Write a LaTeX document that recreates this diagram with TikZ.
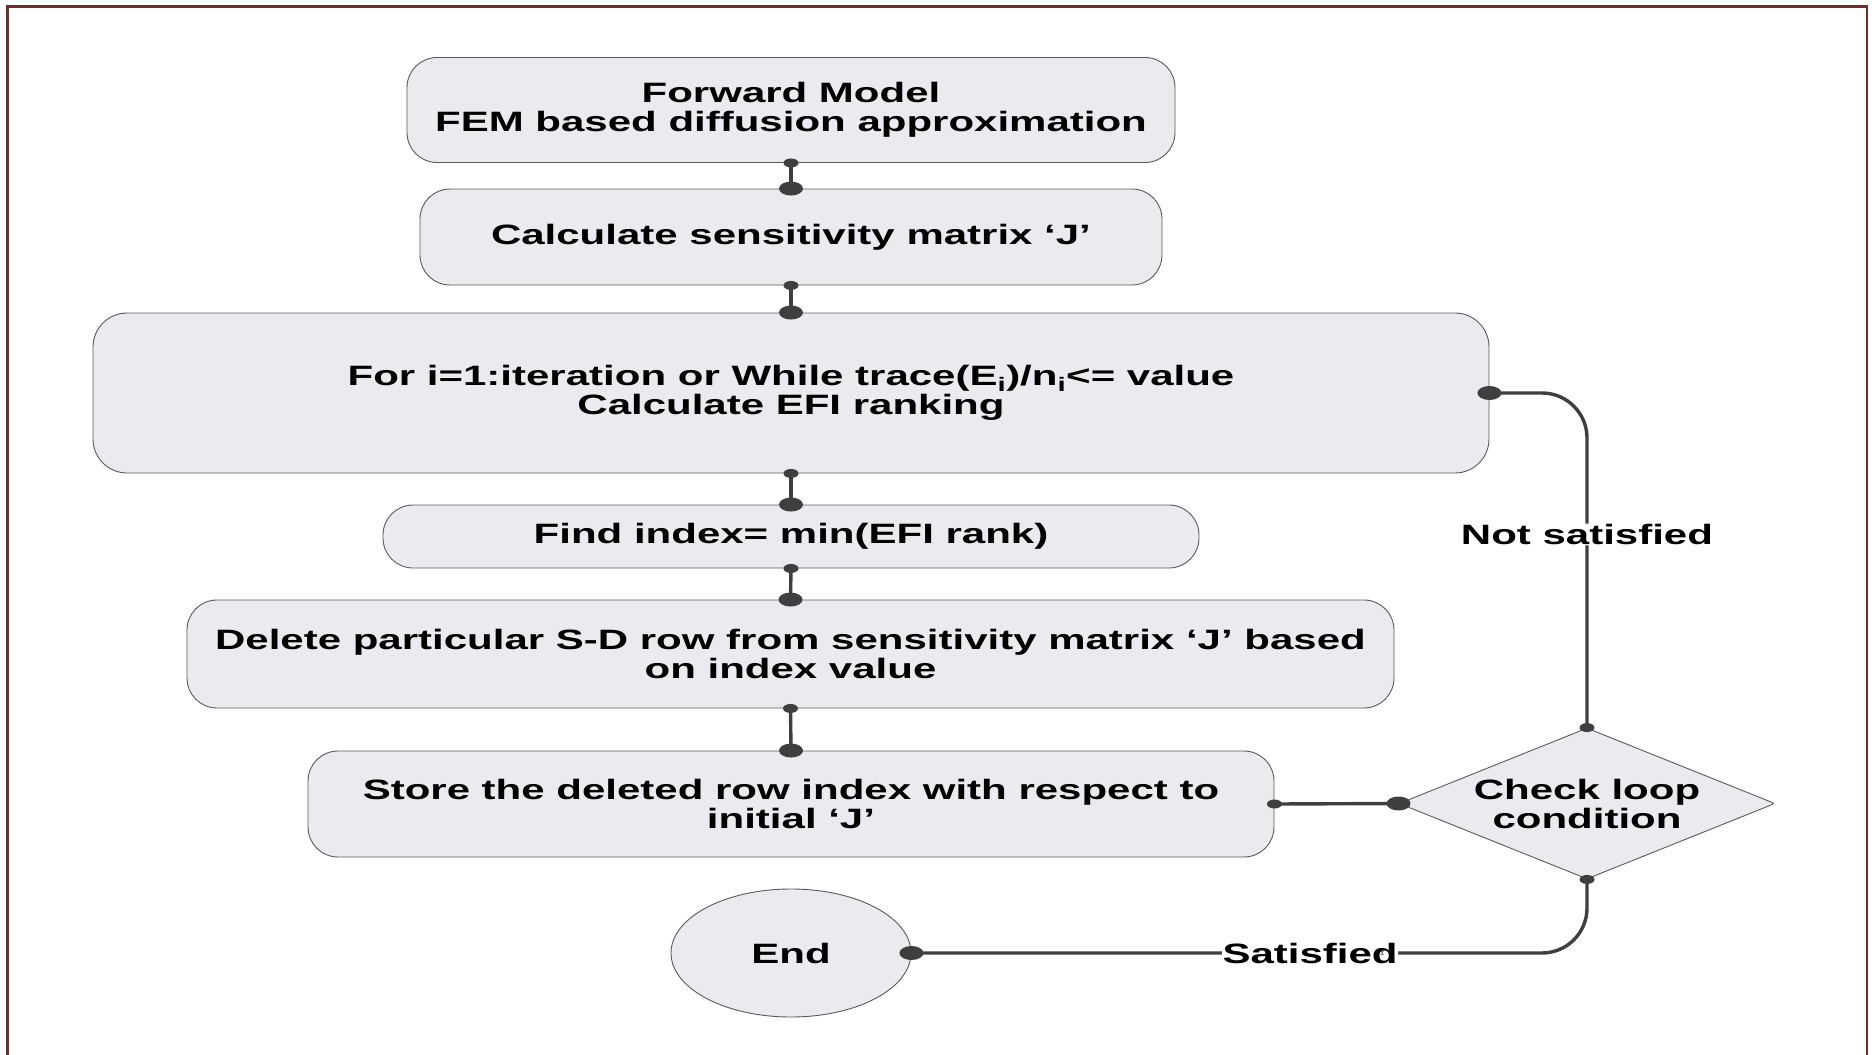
\documentclass[tikz,border=0pt]{standalone}
\usepackage{fontspec}
\newfontfamily\diafont{Liberation Sans}[FakeStretch=1.5]
\usetikzlibrary{shapes.geometric}
\definecolor{boxfill}{HTML}{EBEAEE}
\definecolor{boxdraw}{HTML}{5A5A5A}
\definecolor{linec}{HTML}{3F3F3F}
\definecolor{framec}{HTML}{6E2C2C}
\begin{document}
\begin{tikzpicture}[x=1pt,y=-1pt,
  every node/.style={font=\diafont\bfseries\fontsize{28}{29}\selectfont},
  box/.style={draw=boxdraw, fill=boxfill, rounded corners=30pt, line width=0.9pt, align=center, inner sep=4pt},
  conn/.style={draw=linec, line width=3.4pt},
  lbl/.style={fill=white, inner sep=0.5pt},
  sdot/.style={fill=linec},
]
\useasboundingbox (0,0) rectangle (1872,1055);
% frame
\draw[framec, line width=2.2pt] (7.5,1060) -- (7.5,6.5) -- (1867,6.5) -- (1867,1060);

% nodes
\node[box, minimum width=768pt, minimum height=105pt] (b1) at (791,110) {Forward Model\\FEM based diffusion approximation};
\node[box, minimum width=742pt, minimum height=96pt] (b2) at (791,237) {Calculate sensitivity matrix ‘J’};
\node[box, rounded corners=34pt, minimum width=1396pt, minimum height=160pt] (b3) at (791,393) {For i=1:iteration or While trace(E\textsubscript{i})/n\textsubscript{i}<= value\\Calculate EFI ranking};
\node[box, minimum width=816pt, minimum height=63pt] (b4) at (791,536.5) {Find index= min(EFI rank)};
\node[box, minimum width=1207pt, minimum height=108pt] (b5) at (790.5,654) {Delete particular S-D row from sensitivity matrix ‘J’ based\\on index value};
\node[box, minimum width=966pt, minimum height=106pt] (b6) at (791,804) {Store the deleted row index with respect to\\initial ‘J’};
\node[ellipse, draw=boxdraw, fill=boxfill, line width=0.9pt, minimum width=240pt, minimum height=128pt, inner sep=0pt] (end) at (791,953) {End};
\node[diamond, draw=boxdraw, fill=boxfill, line width=0.9pt, rounded corners=3pt, minimum width=376pt, minimum height=151pt, inner sep=0pt,
  label={[align=center]center:Check loop\\condition}] (dia) at (1587,803.5) {};

% connectors
\draw[conn] (b1.south) -- (b2.north);
\draw[conn] (b2.south) -- (b3.north);
\draw[conn] (b3.south) -- (b4.north);
\draw[conn] (b4.south) -- (b5.north);
\draw[conn] (b5.south) -- (b6.north);
\draw[conn] (b6.east) -- (dia.west);
\draw[conn, rounded corners=45pt] (dia.north) -- node[lbl, pos=0.577] {Not satisfied} (dia.north |- b3.east) -- (b3.east);
\draw[conn, rounded corners=45pt] (dia.south) -- (dia.south |- end.east) -- node[lbl, pos=0.41] {Satisfied} (end.east);

% dots (small = source, big = target)
\foreach \p in {b1.south, b2.south, b3.south, b4.south, b5.south, b6.east, dia.north, dia.south}
  \fill[sdot] (\p) ellipse [x radius=7.5pt, y radius=4.5pt];
\foreach \p in {b2.north, b3.north, b4.north, b5.north, b6.north, dia.west, b3.east, end.east}
  \fill[sdot] (\p) ellipse [x radius=12pt, y radius=7pt];
\end{tikzpicture}
\end{document}
